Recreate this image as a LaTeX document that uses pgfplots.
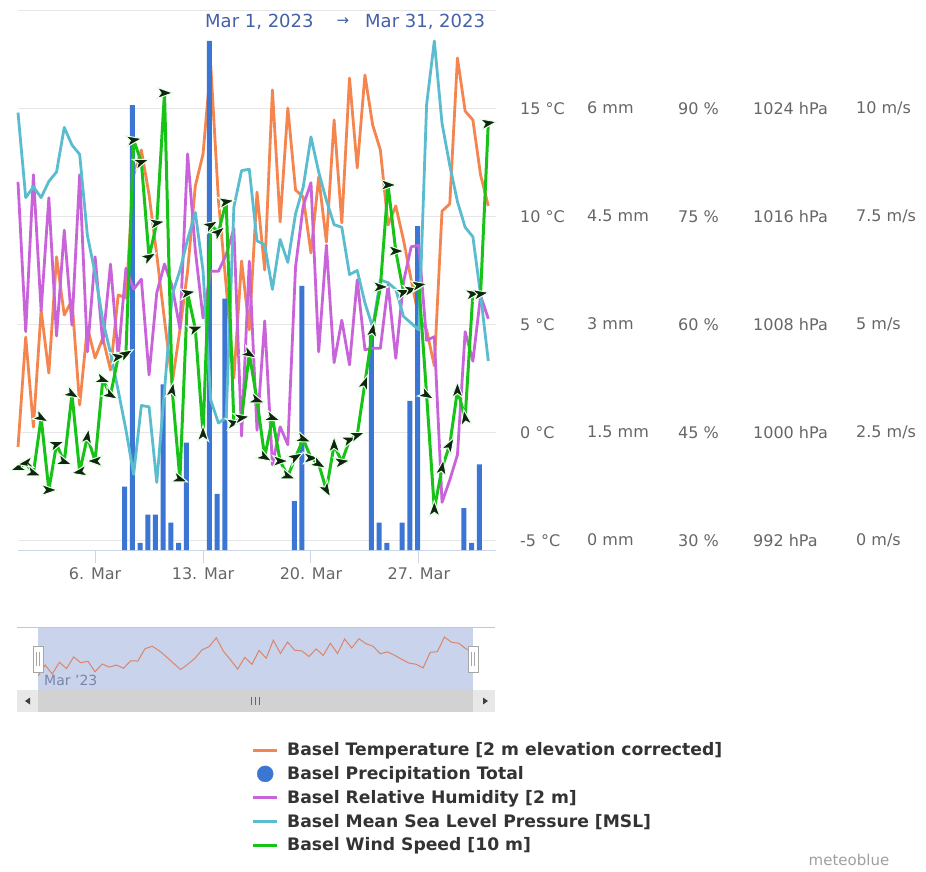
\documentclass[border=0pt]{standalone}
\usepackage{pgfplots}
\pgfplotsset{compat=1.18}
\usepackage{pgfplotstable}
\usepackage{fontspec}
\setmainfont{DejaVu Sans}

\definecolor{ctemp}{HTML}{F5854F}
\definecolor{cprecip}{HTML}{3B76D4}
\definecolor{chum}{HTML}{C963D9}
\definecolor{cpres}{HTML}{5BBCD0}
\definecolor{cwind}{HTML}{17C317}
\definecolor{carrow}{HTML}{0E260E}
\definecolor{carrowedge}{HTML}{E8FFE8}
\definecolor{cgrid}{HTML}{E6E6E6}
\definecolor{caxis}{HTML}{CCD6EB}
\definecolor{ctick}{HTML}{666666}
\definecolor{ctitle}{HTML}{4461A8}
\definecolor{ctext}{HTML}{333333}
\definecolor{cnav}{HTML}{C9D3EC}
\definecolor{cnavline}{HTML}{D9866A}
\definecolor{cnavlabel}{HTML}{7A86A8}

\pgfdeclareplotmark{windarrow}{%
  \pgfpathmoveto{\pgfqpoint{1.1\pgfplotmarksize}{0pt}}%
  \pgfpathlineto{\pgfqpoint{-\pgfplotmarksize}{0.75\pgfplotmarksize}}%
  \pgfpathlineto{\pgfqpoint{-0.45\pgfplotmarksize}{0pt}}%
  \pgfpathlineto{\pgfqpoint{-\pgfplotmarksize}{-0.75\pgfplotmarksize}}%
  \pgfpathclose
  \pgfusepathqfillstroke
}

% day = 1 + half-days; temp in C, hum in %, pres in hPa, wind in m/s, dir = arrow angle (deg)
\pgfplotstableread{
day  temp   hum   pres    wind  dir
1.0  -0.67  79.8  1023.7  1.68  200
1.5   4.42  59.0  1017.4  1.79  190
2.0   0.25  80.8  1018.2  1.56  -20
2.5   5.67  61.9  1017.4  2.84  -30
3.0   2.75  77.6  1018.6  1.17    0
3.5   8.13  58.4  1019.3  2.23   20
4.0   5.44  73.1  1022.6  1.82  -20
4.5   6.13  59.9  1021.3  3.39  -30
5.0   1.27  80.8  1020.6  1.59  190
5.5   4.88  56.2  1014.6  2.40   80
6.0   3.45  69.4  1011.8  1.84  180
6.5   4.38  57.4  1008.3  3.72  -20
7.0   2.89  68.4  1005.9  3.37  -30
7.5   6.37  55.5  1003.1  4.25   10
8.0   6.23  67.8  1000.2  4.32   30
8.5  11.92  64.9   996.9  9.27   10
9.0  13.08  66.3  1002.0  8.76   20
9.5  11.00  53.0  1001.9  6.56   30
10.0  8.22  64.4   996.3  7.35   10
10.5  5.21  68.4  1003.1 10.36    0
11.0  2.29  65.3  1010.2  3.48   80
11.5  4.75  59.4  1012.0  1.42  -20
12.0  7.48  83.7  1014.3  5.73   10
12.5 11.41  70.3  1016.3  4.90   20
13.0 12.89  60.9  1012.0  2.47   90
13.5 17.01  67.4  1002.4  7.30   30
14.0 10.76  67.4  1000.7  7.14   40
14.5  6.78  69.7  1001.1  7.84   10
15.0  2.52  73.3  1016.7  2.72   10
15.5  7.94  44.5  1019.4  2.84   10
16.0  4.75  68.8  1019.5  4.32  -30
16.5 11.13  45.3  1014.2  3.25  -20
17.0  7.52  60.5  1013.9  1.93  -30
17.5 15.86  40.5  1010.6  2.84  -20
18.0  9.75  45.8  1014.3  1.84    0
18.5 15.02  43.3  1012.6  1.49  -20
19.0 11.23  68.0  1016.2  1.93   30
19.5 10.90  76.5  1018.2  2.35  -20
20.0  8.31  79.7  1021.9  1.91    0
20.5 11.83  56.2  1019.3  1.77  -30
21.0  8.82  71.0  1017.2  1.17  -60
21.5 14.47  54.7  1015.4  2.21   90
22.0  9.70  60.6  1015.2  1.82   10
22.5 16.41  54.4  1011.7  2.33   20
23.0 12.25  66.2  1012.0  2.44   20
23.5 16.55  56.5  1009.6  3.65   70
24.0 14.24  56.7  1007.8  4.87   80
24.5 13.08  56.7  1011.3  5.87    0
25.0  9.61  65.5  1011.1  8.23    0
25.5 10.49  55.3  1010.6  6.70    0
26.0  8.91  65.9  1008.6  5.75   20
26.5  7.06  70.8  1008.1  5.80   10
27.0  5.30  71.0  1007.6  5.91   10
27.5  4.75  57.8  1024.3  3.37  -30
28.0  3.08  58.3  1029.0  0.73   90
28.5 10.25  35.3  1022.9  1.68   80
29.0 10.58  38.4  1019.8  2.21   60
29.5 17.34  41.9  1017.1  3.48   90
30.0 14.88  59.0  1015.2  2.84  100
30.5 14.47  54.9  1014.5  5.71   10
31.0 11.92  64.0  1010.2  5.71   10
31.5 10.49  60.8  1005.3  9.66   10
}\maindata

\pgfplotstableread{
day  mm
8.0  0.88
8.5  6.18
9.0  0.10
9.5  0.49
10.0 0.49
10.5 2.30
11.0 0.38
11.5 0.10
12.0 1.49
13.5 7.07
14.0 0.78
14.5 3.49
19.0 0.68
19.5 3.67
24.0 3.00
24.5 0.38
25.0 0.10
26.0 0.38
26.5 2.07
27.0 4.50
30.0 0.58
30.5 0.10
31.0 1.19
}\precipdata

\pgfplotsset{
  layer/.style={
    scale only axis, width=478pt, height=540pt,
    at={(18pt,-550pt)}, anchor=south west,
    xmin=1, xmax=32,
    axis line style={draw=none},
    xtick=\empty,
    ytick style={draw=none},
    yticklabel pos=right,
    clip=false,
    tick label style={font=\fontsize{16}{18}\selectfont, text=ctick},
    yticklabel style={anchor=west, inner sep=0pt, xshift=#1},
  },
}

\begin{document}
\begin{tikzpicture}
% ---------- navigator / scrollbar decoration ----------
\fill[white] (17pt,-627pt) rectangle (495pt,-690pt);
\fill[cnav] (38pt,-627pt) rectangle (473pt,-690pt);
\draw[gray!45, line width=1pt] (17pt,-627pt) -- (495pt,-627pt);
\fill[gray!8] (17pt,-690pt) rectangle (495pt,-712pt);
\fill[gray!35] (38pt,-690pt) rectangle (473pt,-712pt);
\fill[gray!18] (17pt,-690pt) rectangle (38pt,-712pt);
\fill[gray!18] (473pt,-690pt) rectangle (495pt,-712pt);
\fill[black!75] (25pt,-701pt) -- (30pt,-697.5pt) -- (30pt,-704.5pt) -- cycle;
\fill[black!75] (488pt,-701pt) -- (483pt,-697.5pt) -- (483pt,-704.5pt) -- cycle;
\foreach \gx in {251,255,259} {\draw[black!60, line width=0.8pt] (\gx pt,-697pt) -- (\gx pt,-705pt);}

\begin{axis}[scale only axis, width=435pt, height=63pt, at={(38pt,-690pt)}, anchor=south west,
  xmin=1, xmax=31.5, ymin=-7.14, ymax=21.96, hide axis]
\addplot[cnavline, line width=1pt] table[x=day, y=temp]{\maindata};
\end{axis}
\node[anchor=west, inner sep=0pt, text=cnavlabel, font=\fontsize{14}{16}\selectfont] at (44pt,-680pt) {Mar '23};
\foreach \hx in {38,473} {
  \draw[gray!70, fill=white, line width=0.8pt] (\hx pt-5pt,-646pt) rectangle (\hx pt+5pt,-672pt);
  \draw[gray!70, line width=0.8pt] (\hx pt-1.5pt,-652pt) -- (\hx pt-1.5pt,-666pt);
  \draw[gray!70, line width=0.8pt] (\hx pt+1.5pt,-652pt) -- (\hx pt+1.5pt,-666pt);
}

% ---------- temperature axis (grid, x axis) ----------
\begin{axis}[layer=11pt,
  ymin=-5.4398, ymax=19.5602,
  ytick={-5,0,5,10,15},
  yticklabels={-5 °C,0 °C,5 °C,10 °C,15 °C},
  ymajorgrids, grid style={cgrid, line width=1pt},
  xtick={6,13,20,27}, xticklabels={6. Mar,13. Mar,20. Mar,27. Mar},
  xtick pos=bottom,
  xtick style={draw=caxis, line width=1pt},
  tick align=outside, major tick length=13pt,
  xticklabel style={yshift=-1pt},
]
\draw[cgrid, line width=0.8pt] (rel axis cs:0,1) -- (rel axis cs:1,1);
\draw[caxis, line width=1pt] (rel axis cs:0,0) -- (rel axis cs:1,0);
\addplot[ctemp, line width=2.8pt, line join=round] table[x=day, y=temp]{\maindata};
\end{axis}

% ---------- precipitation ----------
\begin{axis}[layer=91pt, ymin=0, ymax=7.5,
  ytick={0.13889,1.63889,3.13889,4.63889,6.13889},
  yticklabels={0 mm,1.5 mm,3 mm,4.5 mm,6 mm}]
\addplot[ybar, bar width=5pt, bar shift=-1.3pt, fill=cprecip, draw=none] table[x=day, y=mm]{\precipdata};
\end{axis}

% ---------- humidity ----------
\begin{axis}[layer=182pt, ymin=28.6806, ymax=103.6806,
  ytick={30,45,60,75,90},
  yticklabels={30 \%,45 \%,60 \%,75 \%,90 \%}]
\addplot[chum, line width=2.8pt, line join=round] table[x=day, y=hum]{\maindata};
\end{axis}

% ---------- pressure ----------
\begin{axis}[layer=257pt, ymin=991.2963, ymax=1031.2963,
  ytick={992,1000,1008,1016,1024},
  yticklabels={992 hPa,1000 hPa,1008 hPa,1016 hPa,1024 hPa}]
\addplot[cpres, line width=2.8pt, line join=round] table[x=day, y=pres]{\maindata};
\end{axis}

% ---------- wind (with legend) ----------
\begin{axis}[layer=360pt, ymin=-0.2199, ymax=12.2801,
  ytick={0,2.5,5,7.5,10},
  yticklabels={0 m/s,2.5 m/s,5 m/s,7.5 m/s,10 m/s},
  legend image code/.code={\draw[#1, line width=3pt] (0pt,0pt) -- (24pt,0pt);},
  legend cell align=left,
  legend style={at={(axis description cs:0.4885,-0.353)}, anchor=north west,
    draw=none, fill=none, inner sep=0pt,
    font=\fontsize{17.2}{19}\selectfont\bfseries, text=ctext,
    row sep=5.2pt,
    /tikz/every odd column/.append style={column sep=6.5pt}},
]
\addlegendimage{ctemp}
\addlegendimage{legend image code/.code={\fill[cprecip] (12pt,0pt) circle (8pt);}}
\addlegendimage{chum}
\addlegendimage{cpres}
\addplot[cwind, line width=3pt, line join=round] table[x=day, y=wind]{\maindata};
\addplot[forget plot, scatter, only marks, mark=windarrow, mark size=7.5pt,
  scatter/use mapped color={draw=carrowedge, fill=carrow},
  visualization depends on={\thisrow{dir}\as\wdir},
  scatter/@pre marker code/.append style={/tikz/rotate=\wdir},
  mark options={line width=1pt}] table[x=day, y=wind]{\maindata};
\legend{Basel Temperature [2 m elevation corrected],
  Basel Precipitation Total,
  Basel Relative Humidity [2 m],
  Basel Mean Sea Level Pressure [MSL],
  Basel Wind Speed [10 m]}
\end{axis}

% ---------- title and credit ----------
\node[anchor=west, inner sep=0pt, text=ctitle, font=\fontsize{18}{20}\selectfont] at (205pt,-22pt) {Mar 1, 2023};
\node[anchor=center, inner sep=0pt, text=ctitle, font=\fontsize{15}{18}\selectfont] at (343pt,-22pt) {→};
\node[anchor=west, inner sep=0pt, text=ctitle, font=\fontsize{18}{20}\selectfont] at (365pt,-22pt) {Mar 31, 2023};
\node[anchor=center, inner sep=0pt, text=gray!75, font=\fontsize{15}{18}\selectfont] at (849pt,-860pt) {meteoblue};

\pgfresetboundingbox
\path (0pt,0pt) rectangle (926pt,-872pt);
\end{tikzpicture}
\end{document}
